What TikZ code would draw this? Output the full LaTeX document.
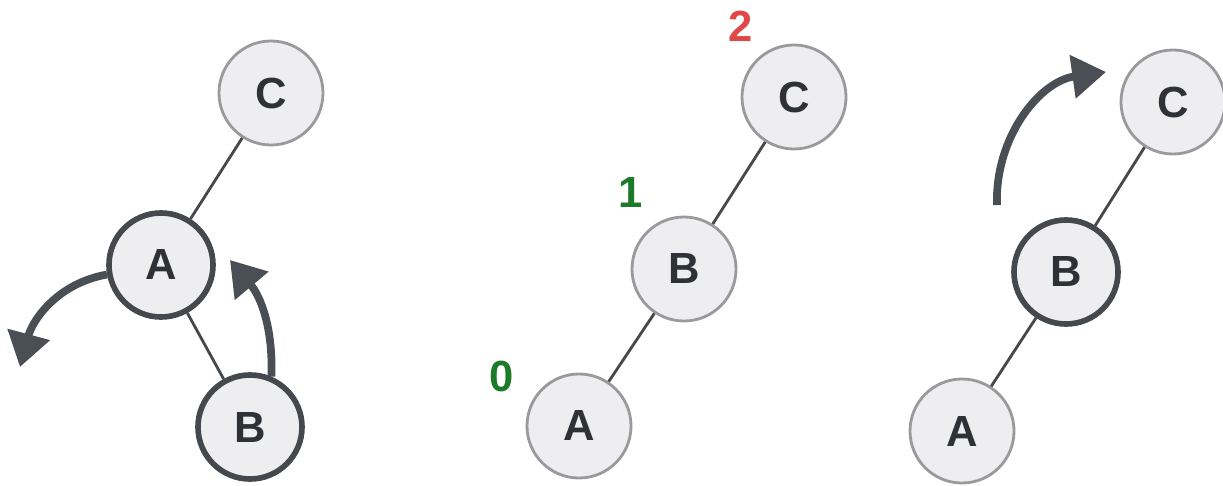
\documentclass[tikz,border=0pt]{standalone}
\usepackage{fontspec}
\setmainfont{Liberation Sans}
\usetikzlibrary{arrows.meta}
\definecolor{nodefill}{HTML}{EEEEF0}
\definecolor{rimgray}{HTML}{9A9A9C}
\definecolor{rimdark}{HTML}{45484C}
\definecolor{edgegray}{HTML}{45484C}
\definecolor{arrowgray}{HTML}{4A4F55}
\definecolor{lettergray}{HTML}{2E3236}
\definecolor{hred}{HTML}{E04848}
\definecolor{hgreen}{HTML}{1C7A2A}
\tikzset{
  treenode/.style={circle, fill=nodefill, draw=rimgray, line width=2pt,
    minimum size=2.6cm, inner sep=0pt, text=lettergray,
    font=\fontsize{31}{36}\selectfont\bfseries},
  pivot/.style={treenode, draw=rimdark, line width=4pt},
  treeedge/.style={draw=edgegray, line width=2pt},
  turn/.style={draw=arrowgray, line width=5.5pt,
    -{Triangle[length=24pt,width=30pt]}},
  height/.style={font=\fontsize{31}{36}\selectfont\bfseries, inner sep=0pt}
}
\begin{document}
\begin{tikzpicture}[x=0.025cm,y=-0.025cm]
\useasboundingbox (0,0) rectangle (1223,486);

% left tree: before the rotation
\node[treenode] (lC) at (271,93) {C};
\node[pivot]    (lA) at (161,265) {A};
\node[pivot]    (lB) at (250,427) {B};
\draw[treeedge] (lC) -- (lA);
\draw[treeedge] (lA) -- (lB);
\coordinate (lt1) at (20,367);
\coordinate (lt2) at (230,260);
\draw[turn] (lA.190) to[out=190,in=75] (lt1);
\draw[turn] (lB.67) to[out=88,in=-50] (lt2);

% middle tree: heights of the nodes
\node[treenode] (mC) at (794,97) {C};
\node[treenode] (mB) at (684,269) {B};
\node[treenode] (mA) at (579,426) {A};
\draw[treeedge] (mC) -- (mB);
\draw[treeedge] (mB) -- (mA);
\node[height, text=hred]   (h2) at (741,26)  {2};
\node[height, text=hgreen] (h1) at (631,193) {1};
\node[height, text=hgreen] (h0) at (502,376) {0};

% right tree: rotate towards C
\node[treenode] (rC) at (1173,102) {C};
\node[pivot]    (rB) at (1066,272) {B};
\node[treenode] (rA) at (962,431) {A};
\draw[treeedge] (rC) -- (rB);
\draw[treeedge] (rB) -- (rA);
\coordinate (rs) at (997,205);
\coordinate (rt) at (1106,72);
\draw[turn] (rs) to[out=92,in=188] (rt);
\end{tikzpicture}
\end{document}
